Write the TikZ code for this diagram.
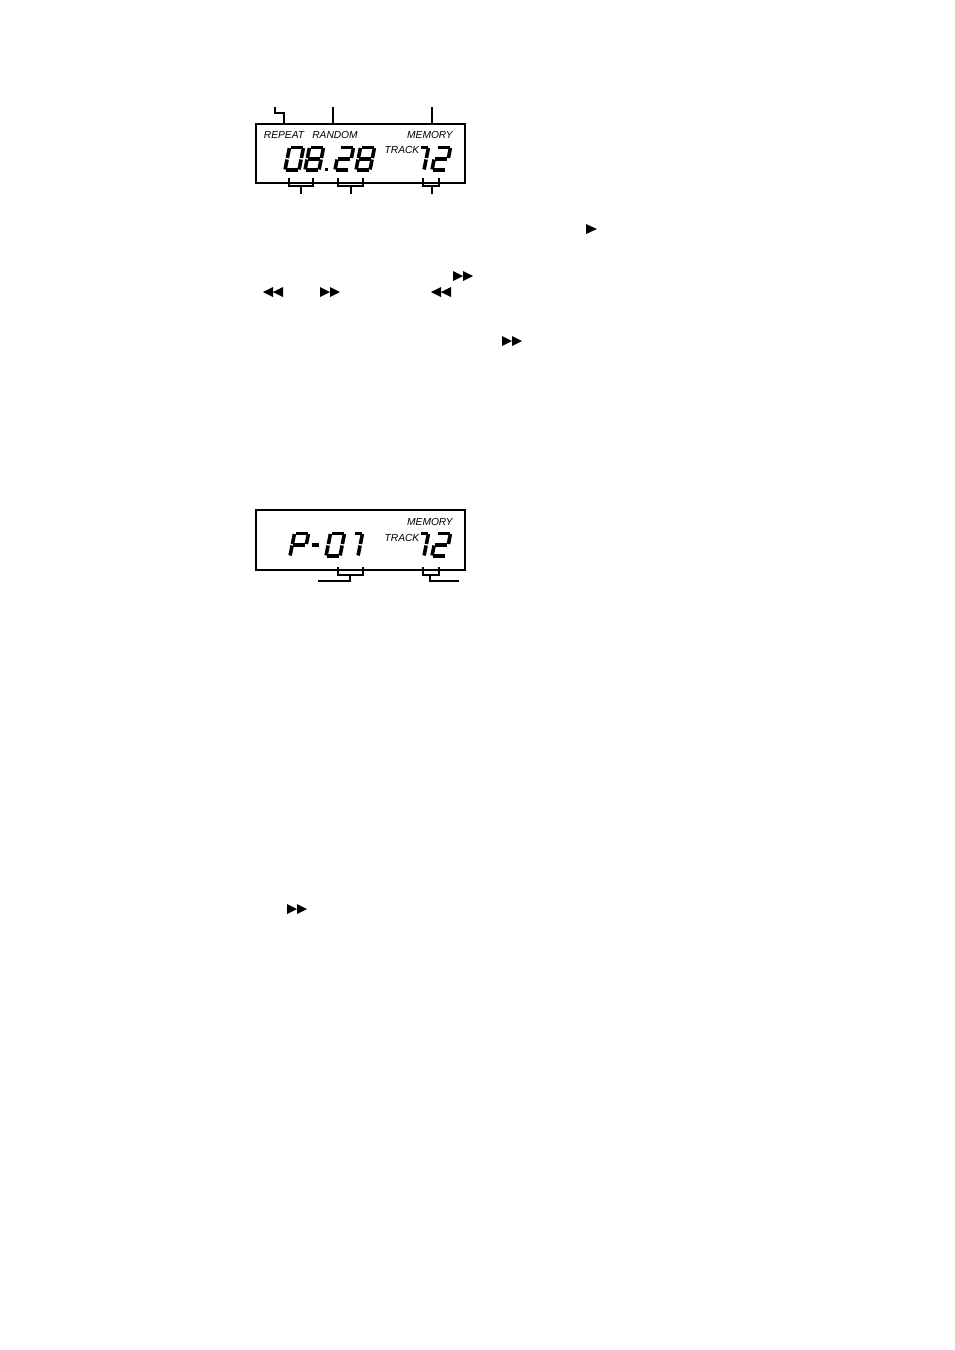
\documentclass[tikz,border=0pt]{standalone}
\usepackage{fontspec}
\setsansfont{Liberation Sans}
\usepackage{tikz}
\usetikzlibrary{positioning,calc}

% one lcd digit: #1 = bottom left corner, #2 = list of segments
\newcommand{\lcddigit}[2]{%
  \begin{scope}[shift={#1},xslant=0.2]
    \coordinate (a1) at (1,-22.5);  \coordinate (a2) at (13,-22.5);
    \coordinate (b1) at (14,-22);   \coordinate (b2) at (14,-12);
    \coordinate (c1) at (14,-10.5); \coordinate (c2) at (14,-0.5);
    \coordinate (d1) at (1,0);      \coordinate (d2) at (13,0);
    \coordinate (e1) at (0,-10.5);  \coordinate (e2) at (0,-0.5);
    \coordinate (f1) at (0,-22);    \coordinate (f2) at (0,-12);
    \coordinate (g1) at (1,-11.25); \coordinate (g2) at (13,-11.25);
    \coordinate (h1) at (6.5,-22.5);\coordinate (h2) at (13,-22.5);
    \foreach \s in {#2} \draw[seg] (\s1) -- (\s2);
  \end{scope}}

\begin{document}
\begin{tikzpicture}[
    x=0.5pt, y=-0.5pt,
    lcdbox/.style={draw, line width=1pt},
    seg/.style={line width=1.8pt},
    leader/.style={draw, line width=0.7pt},
    lbl/.style={font=\sffamily\itshape\fontsize{5.1}{6}\selectfont, inner sep=0pt},
    play/.pic={\fill (0,-5) -- (11,0) -- (0,5) -- cycle;},
    fwd/.pic={\fill (0,-5) -- (10,0) -- (0,5) -- cycle (10,-5) -- (20,0) -- (10,5) -- cycle;},
    rew/.pic={\fill (20,-5) -- (10,0) -- (20,5) -- cycle (10,-5) -- (0,0) -- (10,5) -- cycle;}
  ]
  \useasboundingbox (0,0) rectangle (954,1350);

  % first display
  \draw[lcdbox] (256,124) rectangle (465,183);
  \node[lbl] (repeat) at (284,134.5) {REPEAT};
  \node[lbl] (random) at (335,134.5) {RANDOM};
  \node[lbl] (memA) at (430,134.5) {MEMORY};
  \node[lbl] (trackA) at (402,150) {TRACK};
  \lcddigit{(285,170)}{a,b,c,d,e,f}
  \lcddigit{(305,170)}{a,b,c,d,e,f,g}
  \fill (324.5,167.5) rectangle (328,171);
  \lcddigit{(335,170)}{a,b,g,e,d}
  \lcddigit{(356,170)}{a,b,c,d,e,f,g}
  \lcddigit{(410,170)}{h,b,c}
  \lcddigit{(432,170)}{a,b,g,e,d}
  \draw[leader] (275,107) -- (275,113) -- (284,113) -- (284,124);
  \draw[leader] (333,107) -- (333,124);
  \draw[leader] (432,107) -- (432,124);
  \draw[leader] (289,178) -- (289,186) -- (313,186) -- (313,178);
  \draw[leader] (301,186) -- (301,194);
  \draw[leader] (338,178) -- (338,186) -- (363,186) -- (363,178);
  \draw[leader] (351,186) -- (351,194);
  \draw[leader] (423,178) -- (423,186) -- (439,186) -- (439,178);
  \draw[leader] (432,186) -- (432,194);

  % buttons in the text
  \pic at (586,229) {play};
  \pic at (453,276) {fwd};
  \pic at (263,292) {rew};
  \pic at (320,292) {fwd};
  \pic at (431,292) {rew};
  \pic at (502,341) {fwd};
  \pic at (287,909) {fwd};

  % second display
  \draw[lcdbox] (256,510) rectangle (465,570);
  \node[lbl] (memB) at (430,522) {MEMORY};
  \node[lbl] (trackB) at (402,537.5) {TRACK};
  \lcddigit{(290,556)}{a,b,f,e,g}
  \draw[seg] (312,545) -- (319,545);
  \lcddigit{(326,556)}{a,b,c,d,e,f}
  \lcddigit{(344,556)}{h,b,c}
  \lcddigit{(410,556)}{h,b,c}
  \lcddigit{(432,556)}{a,b,g,e,d}
  \draw[leader] (338,567) -- (338,575) -- (363,575) -- (363,567);
  \draw[leader] (350,575) -- (350,581) -- (318,581);
  \draw[leader] (423,567) -- (423,575) -- (439,575) -- (439,567);
  \draw[leader] (430,575) -- (430,581) -- (459,581);
\end{tikzpicture}
\end{document}
